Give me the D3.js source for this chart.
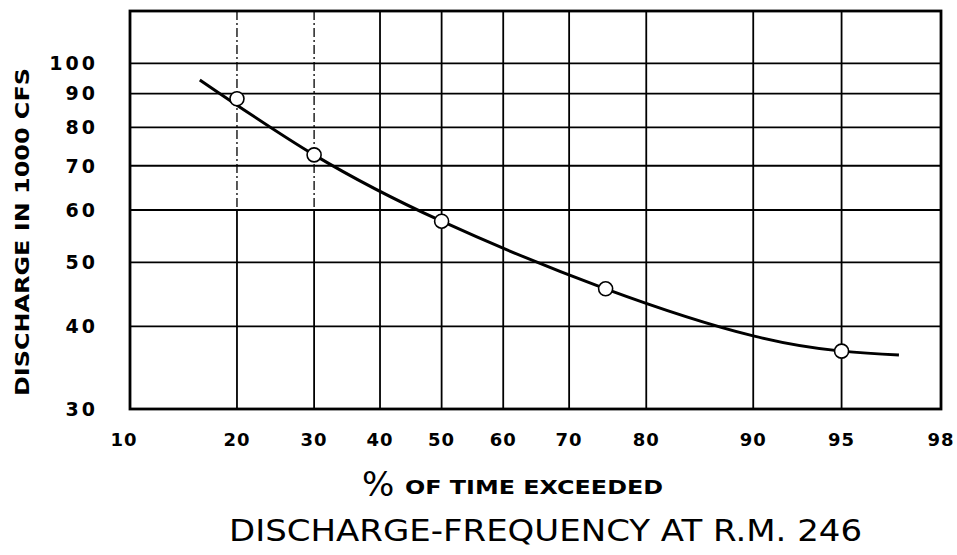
<!DOCTYPE html>
<html>
<head>
<meta charset="utf-8">
<script src="https://cdn.jsdelivr.net/npm/d3@7"></script>
<style>
  body { margin: 0; background: #fff; }
  svg { display: block; }
  text { font-family: 'DejaVu Sans', sans-serif; fill: #000; }
</style>
</head>
<body>
<svg id="chart" width="957" height="555"></svg>
<script>
// % of time exceeded (probability axis) and discharge in 1000 cfs (log axis)
const xTicks = [10, 20, 30, 40, 50, 60, 70, 80, 90, 95, 98]
const xGrid = [20, 30, 40, 50, 60, 70, 80, 90, 95]
const xGridDashed = [20, 30]
const yTicks = [30, 40, 50, 60, 70, 80, 90, 100]
const yGrid = [40, 50, 60, 70, 80, 90, 100]

const pointPct = [20, 30, 50, 75, 95]
const pointQ = [88.4, 72.7, 57.7, 45.6, 36.7]

const curvePct = [16, 30, 50, 75, 90, 95, 97]
const curveQ = [94.4, 72.7, 57.7, 45.6, 38.7, 36.7, 36.2]

const svg = d3.select('#chart')
const margin = { left: 130, right: 941, top: 11, bottom: 409 }

// inverse normal CDF (Acklam) for the probability scale
const invNorm = (p) => {
  const a = [-3.969683028665376e1, 2.209460984245205e2, -2.759285104469687e2, 1.383577518672690e2, -3.066479806614716e1, 2.506628277459239]
  const b = [-5.447609879822406e1, 1.615858368580409e2, -1.556989798598866e2, 6.680131188771972e1, -1.328068155288572e1]
  const c = [-7.784894002430293e-3, -3.223964580411365e-1, -2.400758277161838, -2.549732539343734, 4.374664141464968, 2.938163982698783]
  const d = [7.784695709041462e-3, 3.224671290700398e-1, 2.445134137142996, 3.754408661907416]
  const pl = 0.02425
  if (p < pl) {
    const q = Math.sqrt(-2 * Math.log(p))
    return (((((c[0] * q + c[1]) * q + c[2]) * q + c[3]) * q + c[4]) * q + c[5]) / ((((d[0] * q + d[1]) * q + d[2]) * q + d[3]) * q + 1)
  }
  if (p > 1 - pl) {
    const q = Math.sqrt(-2 * Math.log(1 - p))
    return -(((((c[0] * q + c[1]) * q + c[2]) * q + c[3]) * q + c[4]) * q + c[5]) / ((((d[0] * q + d[1]) * q + d[2]) * q + d[3]) * q + 1)
  }
  const q = p - 0.5
  const r = q * q
  return (((((a[0] * r + a[1]) * r + a[2]) * r + a[3]) * r + a[4]) * r + a[5]) * q / (((((b[0] * r + b[1]) * r + b[2]) * r + b[3]) * r + b[4]) * r + 1)
}

const zScale = d3.scaleLinear()
  .domain([invNorm(0.10), invNorm(0.98)])
  .range([margin.left, margin.right])
const x = (pct) => zScale(invNorm(pct / 100))
const y = d3.scaleLog().domain([30, 120]).range([margin.bottom, margin.top])

// grid
const gGrid = svg.append('g').attr('stroke', '#000').attr('stroke-width', 1.8)
gGrid.selectAll('line.v').data(xGrid).enter().append('line')
  .attr('x1', (d) => x(d)).attr('x2', (d) => x(d))
  .attr('y1', (d) => xGridDashed.includes(d) ? y(60) : margin.top)
  .attr('y2', margin.bottom)
// the 20 and 30 lines are broken in their upper part
gGrid.selectAll('line.vd').data(xGridDashed).enter().append('line')
  .attr('x1', (d) => x(d)).attr('x2', (d) => x(d))
  .attr('y1', margin.top).attr('y2', y(60))
  .attr('stroke-width', 1.3)
  .attr('stroke-dasharray', '9,3,2,3')
gGrid.selectAll('line.h').data(yGrid).enter().append('line')
  .attr('x1', margin.left).attr('x2', margin.right)
  .attr('y1', (d) => y(d)).attr('y2', (d) => y(d))

// frame
svg.append('rect')
  .attr('x', margin.left).attr('y', margin.top)
  .attr('width', margin.right - margin.left)
  .attr('height', margin.bottom - margin.top)
  .attr('fill', 'none').attr('stroke', '#000').attr('stroke-width', 2.8)

// tick labels
svg.append('g').selectAll('text').data(yTicks).enter().append('text')
  .attr('x', 98).attr('y', (d) => y(d)).attr('dy', '0.36em')
  .attr('text-anchor', 'end')
  .style('font-size', '19px').style('font-weight', 'bold').style('letter-spacing', '3px')
  .text((d) => d)

svg.append('g').selectAll('text').data(xTicks).enter().append('text')
  .attr('x', (d) => x(d) + (d === 10 ? -6 : 0)).attr('y', 440).attr('dy', '0.36em')
  .attr('text-anchor', 'middle')
  .style('font-size', '18px').style('font-weight', 'bold').style('letter-spacing', '1px')
  .text((d) => d)

// curve and points
const line = d3.line().curve(d3.curveNatural)
  .x((d) => x(d[0])).y((d) => y(d[1]))
svg.append('path')
  .datum(d3.zip(curvePct, curveQ))
  .attr('d', line)
  .attr('fill', 'none').attr('stroke', '#000').attr('stroke-width', 3)

svg.append('g').selectAll('circle').data(d3.zip(pointPct, pointQ)).enter().append('circle')
  .attr('cx', (d) => x(d[0])).attr('cy', (d) => y(d[1])).attr('r', 7)
  .attr('fill', '#fff').attr('stroke', '#000').attr('stroke-width', 1.6)

// titles
svg.append('text')
  .attr('transform', 'translate(29, 232) rotate(-90)')
  .attr('text-anchor', 'middle')
  .attr('textLength', 328).attr('lengthAdjust', 'spacingAndGlyphs')
  .style('font-size', '19px').style('font-weight', 'bold')
  .text('DISCHARGE IN 1000 CFS')

svg.append('text')
  .attr('x', 362).attr('y', 496)
  .style('font-size', '34px')
  .text('%')
svg.append('text')
  .attr('x', 405).attr('y', 494)
  .attr('textLength', 258).attr('lengthAdjust', 'spacingAndGlyphs')
  .style('font-size', '20px').style('font-weight', 'bold')
  .text('OF TIME EXCEEDED')

svg.append('text')
  .attr('x', 229).attr('y', 541)
  .attr('textLength', 633).attr('lengthAdjust', 'spacingAndGlyphs')
  .style('font-size', '30px')
  .text('DISCHARGE-FREQUENCY AT R.M. 246')
</script>
</body>
</html>
